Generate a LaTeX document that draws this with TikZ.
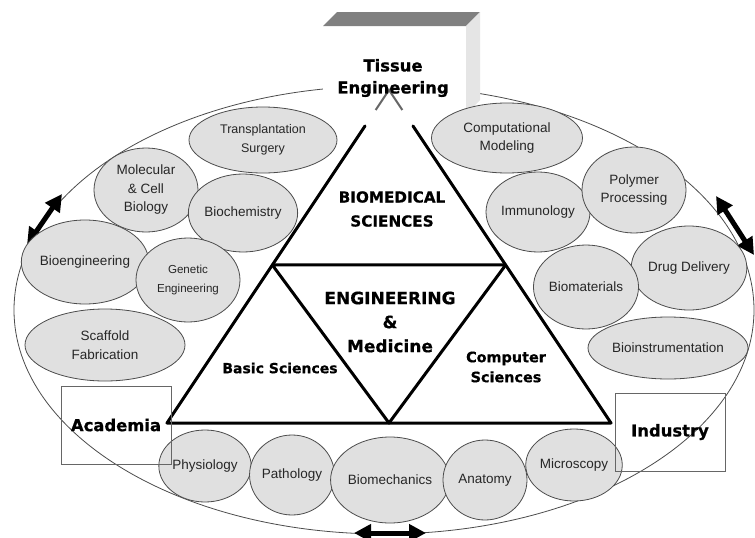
\documentclass[tikz,border=0pt]{standalone}
\usepackage{fontspec}
\setmainfont{Liberation Sans}
\newfontfamily\headfont[BoldFeatures={FakeBold=0.6}]{DejaVu Sans}
\usetikzlibrary{arrows.meta, shapes.geometric, calc}

\tikzset{
  field/.style={ellipse, draw=black!70, line width=0.8pt, fill=black!12, inner sep=0pt,
    align=center, text=black!85},
  heading/.style={align=center, font=\headfont\bfseries\fontsize{16.4}{22}\selectfont},
  sidebox/.style={draw=black!60, line width=0.8pt, minimum width=110pt, minimum height=78pt, inner sep=0pt},
  bigarrow/.style={{Triangle[length=17pt, width=17pt]}-{Triangle[length=17pt, width=17pt]}, line width=5pt},
  corner/.style={line width=3pt, line cap=round, line join=round},
}

\begin{document}
\begin{tikzpicture}[x=1pt, y=-1pt]
  \useasboundingbox (0,0) rectangle (755,538);
  \fill[white] (0,0) rectangle (755,538);

  % outer ring
  \draw[black!70, line width=0.8pt] (384,310) ellipse [x radius=370pt, y radius=224pt];

  % raised title block
  \fill[white] (323,26) rectangle (466,100);
  \fill[black!50] (323,26) -- (337,12) -- (480,12) -- (466,26) -- cycle;
  \fill[black!10] (466,26) -- (480,12) -- (480,100) -- (466,114) -- cycle;

  % two-headed arrows on the ring
  \coordinate (l1) at (27,245);
  \coordinate (l2) at (62,194);
  \coordinate (r1) at (716,196);
  \coordinate (r2) at (754,255);
  \coordinate (b1) at (354,533);
  \coordinate (b2) at (426,533);
  \draw[bigarrow] (l1) -- (l2);
  \draw[bigarrow] (r1) -- (r2);
  \draw[bigarrow] (b1) -- (b2);

  % fields around the triangle
  \foreach \n/\x/\y/\w/\h/\s/\t in {
      trans/263/140/148/66/12.5/{Transplantation\\Surgery},
      molec/146/190/104/84/13.5/{Molecular\\\& Cell\\Biology},
      bioch/243/213/90/78/13.5/{Biochemistry},
      bioeng/85/262/104/84/13.5/{Bioengineering},
      genet/188/280/104/84/11.6/{Genetic\\Engineering},
      scaff/105/345/160/72/13.5/{Scaffold\\Fabrication},
      comput/507/138/151/70/13.5/{Computational\\Modeling},
      immun/538/212/90/80/13.5/{Immunology},
      polym/634/190/104/86/13.5/{Polymer\\Processing},
      drug/689/268/106/84/13.5/{Drug Delivery},
      biomat/586/287/104/84/13.5/{Biomaterials},
      instr/668/348/160/62/13.5/{Bioinstrumentation},
      physio/205/466/84/72/13.5/{Physiology},
      patho/292/475/84/80/13.5/{Pathology},
      mech/390/480/96/86/13.5/{Biomechanics},
      anat/485/480/84/80/13.5/{Anatomy},
      micro/574/465/84/72/13.5/{Microscopy}}
    \node[field, minimum width=\w pt, minimum height=\h pt,
      font=\fontsize{\s}{18.5}\selectfont] (\n) at (\x,\y) {\t};

  % the triangle
  \coordinate (A) at (167,423);
  \coordinate (B) at (611,423);
  \coordinate (C) at (389,90);
  \coordinate (M) at ($(A)!0.5!(B)$);
  \coordinate (P) at ($(A)!0.4745!(C)$);
  \coordinate (Q) at ($(B)!0.4745!(C)$);
  \draw[black!60, line width=2pt] ($(C)!0.06!(A)$) -- (C) -- ($(C)!0.06!(B)$);
  \draw[corner] ($(C)!0.108!(A)$) -- (A) -- (B) -- ($(C)!0.108!(B)$);
  \draw[corner] (P) -- (Q) -- (M) -- cycle;

  % side boxes
  \node[sidebox, heading] (academia) at (116,425) {Academia};
  \node[sidebox, heading] (industry) at (670,432) {Industry};

  % labels
  \node[heading] (tissue) at (393,78) {Tissue\\Engineering};
  \node[heading, font=\headfont\bfseries\fontsize{15.2}{24}\selectfont] (biomed) at (392,209) {BIOMEDICAL\\SCIENCES};
  \node[heading, font=\headfont\bfseries\fontsize{17}{24}\selectfont] (engmed) at (390,322) {ENGINEERING\\\&\\Medicine};
  \node[heading, font=\headfont\bfseries\fontsize{14}{19}\selectfont] (basic) at (280,368) {Basic Sciences};
  \node[heading, font=\headfont\bfseries\fontsize{14.4}{20}\selectfont] (comp) at (506,367) {Computer\\Sciences};
\end{tikzpicture}
\end{document}
